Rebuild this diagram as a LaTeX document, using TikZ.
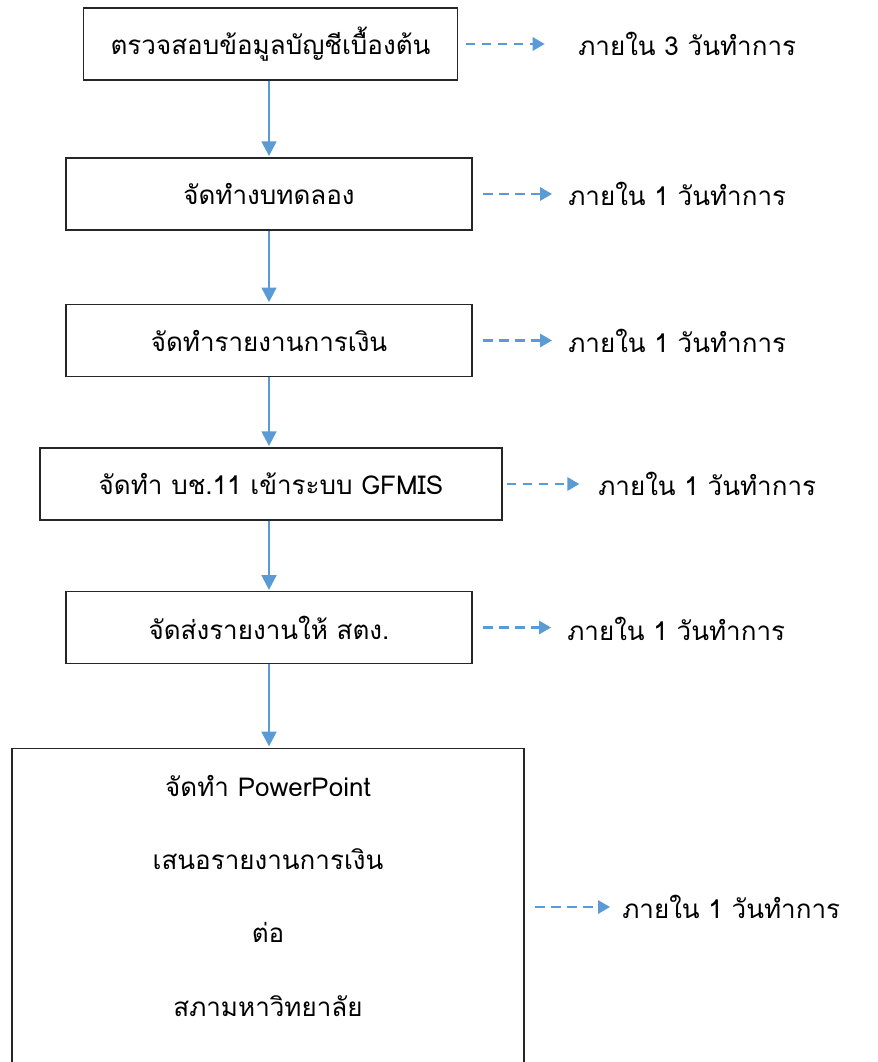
\documentclass[tikz,border=0pt]{standalone}
\usepackage{fontspec}
\newfontfamily\thaifont[Script=Thai]{Loma}
\usetikzlibrary{arrows.meta,positioning}
\definecolor{flowblue}{HTML}{5B9BD5}

\begin{document}
\begin{tikzpicture}[
    x=0.75pt, y=-0.75pt,
    every node/.style={font=\thaifont\fontsize{19.5}{25}\selectfont},
    stepbox/.style={draw=black!85, line width=0.9pt, inner sep=0pt, text centered},
    timelabel/.style={anchor=west, inner sep=0pt},
    flow/.style={draw=flowblue, line width=1.9pt, -{Triangle[width=11pt,length=11pt]}, shorten >=1pt},
    dasharr/.style={draw=flowblue, line width=1.6pt, dash pattern=on 7pt off 5pt, -{Triangle[width=10pt,length=9pt]}}
]
\useasboundingbox (0,0) rectangle (877,1062);

% Process steps
\node[stepbox, minimum width=280pt, minimum height=54pt] (check) at (270.5,44) {ตรวจสอบข้อมูลบัญชีเบื้องต้น};
\node[stepbox, minimum width=304.5pt, minimum height=54pt] (trial) at (269,194) {จัดทำงบทดลอง};
\node[stepbox, minimum width=304.5pt, minimum height=54.5pt] (report) at (269,340.5) {จัดทำรายงานการเงิน};
\node[stepbox, minimum width=346.5pt, minimum height=54pt] (gfmis) at (271,484) {จัดทำ บช.11 เข้าระบบ GFMIS};
\node[stepbox, minimum width=304.5pt, minimum height=53.5pt] (send) at (269,627.5) {จัดส่งรายงานให้ สตง.};
\node[stepbox, minimum width=384pt, minimum height=238pt, align=center] (present) at (268,907)
    {จัดทำ PowerPoint\\[30pt]เสนอรายงานการเงิน\\[30pt]ต่อ\\[30pt]สภามหาวิทยาลัย\\[-8pt]};

% Time limits
\node[timelabel] (t1) at (578,44) {ภายใน 3 วันทำการ};
\node[timelabel] (t2) at (568,194) {ภายใน 1 วันทำการ};
\node[timelabel] (t3) at (568,340.5) {ภายใน 1 วันทำการ};
\node[timelabel] (t4) at (598,484) {ภายใน 1 วันทำการ};
\node[timelabel] (t5) at (567,629) {ภายใน 1 วันทำการ};
\node[timelabel] (t6) at (622,907) {ภายใน 1 วันทำการ};

% Flow
\draw[flow] (check.south -| trial) -- (trial);
\draw[flow] (trial) -- (report);
\draw[flow] (report) -- (gfmis.north -| report);
\draw[flow] (gfmis.south -| report) -- (send);
\draw[flow] (send) -- (present.north -| send);

% Time arrows
\draw[dasharr, shorten <=6pt, shorten >=25pt] (check.east) -- (t1.west);
\draw[dasharr, shorten <=8pt, shorten >=12pt] (trial.east) -- (t2.west);
\draw[dasharr, shorten <=8pt, shorten >=12pt] (report.east) -- (t3.west);
\draw[dasharr, shorten <=3pt, shorten >=14pt] (gfmis.east) -- (t4.west);
\draw[dasharr, shorten <=8pt, shorten >=12pt] (send.east) -- (t5.west |- send.east);
\draw[dasharr, shorten <=8pt, shorten >=9pt] (present.east) -- (t6.west);

\end{tikzpicture}
\end{document}
